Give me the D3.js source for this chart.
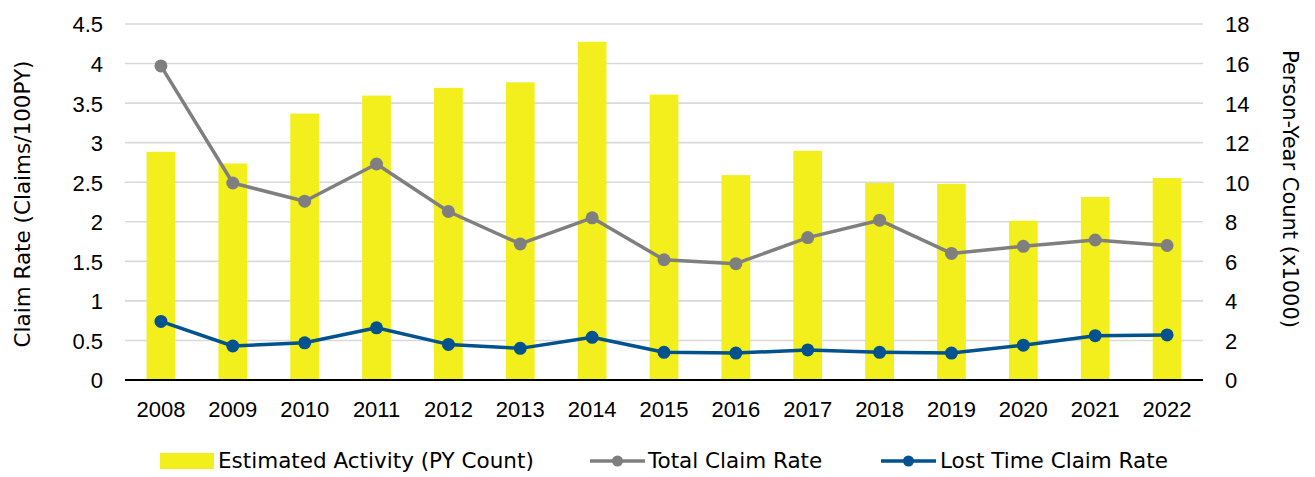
<!DOCTYPE html>
<html>
<head>
<meta charset="utf-8">
<script src="https://cdn.jsdelivr.net/npm/d3@7"></script>
<style>
  html, body { margin: 0; padding: 0; background: #fff; }
  svg { display: block; }
</style>
</head>
<body>
<svg id="chart" width="1315" height="477"></svg>
<script>
const years = ["2008","2009","2010","2011","2012","2013","2014","2015","2016","2017","2018","2019","2020","2021","2022"];
const activity = [11.54, 10.95, 13.47, 14.38, 14.77, 15.05, 17.1, 14.43, 10.36, 11.59, 9.96, 9.92, 8.05, 9.25, 10.21];
const totalRate = [3.97, 2.49, 2.26, 2.73, 2.13, 1.72, 2.05, 1.52, 1.47, 1.80, 2.02, 1.60, 1.69, 1.77, 1.70];
const lostRate = [0.74, 0.43, 0.47, 0.66, 0.45, 0.40, 0.54, 0.35, 0.34, 0.38, 0.35, 0.34, 0.44, 0.56, 0.57];
const leftTicks = [0, 0.5, 1, 1.5, 2, 2.5, 3, 3.5, 4, 4.5];
const rightTicks = [0, 2, 4, 6, 8, 10, 12, 14, 16, 18];
const seriesNames = ["Estimated Activity (PY Count)", "Total Claim Rate", "Lost Time Claim Rate"];
const leftTitle = "Claim Rate (Claims/100PY)";
const rightTitle = "Person-Year Count (x1000)";

const C_BAR = "#F3EF1C", C_GRAY = "#7F7F7F", C_BLUE = "#02528F";
const letterFont = "'DejaVu Sans', sans-serif";
const digitFont = "'Liberation Sans', Arial, sans-serif";

const svg = d3.select("#chart");
const L = 125, R = 1203, T = 24, B = 380;

const x = d3.scaleBand().domain(years).range([L, R]).paddingInner(0.6).paddingOuter(0.3);
const yL = d3.scaleLinear().domain([0, 4.5]).range([B, T]);
const yR = d3.scaleLinear().domain([0, 18]).range([B, T]);
const cx = d => x(d) + x.bandwidth() / 2;

// gridlines
svg.append("g").selectAll("line").data(leftTicks.filter(t => t > 0)).join("line")
  .attr("x1", L).attr("x2", R)
  .attr("y1", d => yL(d)).attr("y2", d => yL(d))
  .attr("stroke", "#D9D9D9").attr("stroke-width", 1.6);

// bars
svg.append("g").selectAll("rect").data(activity).join("rect")
  .attr("x", (d, i) => x(years[i]))
  .attr("width", x.bandwidth())
  .attr("y", d => yR(d))
  .attr("height", d => yR(0) - yR(d))
  .attr("fill", C_BAR);

// baseline
svg.append("line").attr("x1", L).attr("x2", R).attr("y1", B).attr("y2", B)
  .attr("stroke", "#000").attr("stroke-width", 2);

// lines
function drawLine(vals, color) {
  const line = d3.line().x((d, i) => cx(years[i])).y(d => yL(d));
  svg.append("path").datum(vals).attr("d", line)
    .attr("fill", "none").attr("stroke", color).attr("stroke-width", 3.5)
    .attr("stroke-linejoin", "round");
  svg.append("g").selectAll("circle").data(vals).join("circle")
    .attr("cx", (d, i) => cx(years[i])).attr("cy", d => yL(d))
    .attr("r", 6.5).attr("fill", color);
}
drawLine(totalRate, C_GRAY);
drawLine(lostRate, C_BLUE);

// left axis
const axL = d3.axisLeft(yL).tickValues(leftTicks).tickSize(0).tickPadding(0).tickFormat(d3.format("~g"));
const gL = svg.append("g").attr("transform", `translate(103,0)`).call(axL);
gL.select(".domain").remove();
gL.selectAll("text").attr("font-family", digitFont).attr("font-size", 22).attr("fill", "#000").attr("dy", "0.36em").attr("x", 0);

// right axis
const axR = d3.axisRight(yR).tickValues(rightTicks).tickSize(0).tickPadding(0);
const gR = svg.append("g").attr("transform", `translate(1225,0)`).call(axR);
gR.select(".domain").remove();
gR.selectAll("text").attr("font-family", digitFont).attr("font-size", 22).attr("fill", "#000").attr("dy", "0.36em").attr("x", 0);

// bottom axis
const axB = d3.axisBottom(x).tickSize(0).tickPadding(0);
const gB = svg.append("g").attr("transform", `translate(0,417)`).call(axB);
gB.select(".domain").remove();
gB.selectAll("text").attr("font-family", digitFont).attr("font-size", 22).attr("fill", "#000").attr("dy", 0).attr("y", 0);

// axis titles
svg.append("text").attr("transform", "translate(30,204) rotate(-90)")
  .attr("text-anchor", "middle").attr("font-family", letterFont).attr("font-size", 21.5)
  .attr("fill", "#000").text(leftTitle);
svg.append("text").attr("transform", "translate(1283,189) rotate(90)")
  .attr("text-anchor", "middle").attr("font-family", letterFont).attr("font-size", 21)
  .attr("fill", "#000").text(rightTitle);

// legend
const lg = svg.append("g");
lg.append("rect").attr("x", 160).attr("y", 453).attr("width", 54).attr("height", 16).attr("fill", C_BAR);
lg.append("text").attr("x", 218).attr("y", 468).attr("font-family", letterFont).attr("font-size", 21.5).text(seriesNames[0]);
[[590, C_GRAY, 648, seriesNames[1]], [881, C_BLUE, 940, seriesNames[2]]].forEach(([lx, c, tx, name]) => {
  lg.append("line").attr("x1", lx).attr("x2", lx + 55).attr("y1", 461).attr("y2", 461)
    .attr("stroke", c).attr("stroke-width", 3.5);
  lg.append("circle").attr("cx", lx + 27.5).attr("cy", 461).attr("r", 5.5).attr("fill", c);
  lg.append("text").attr("x", tx).attr("y", 468).attr("font-family", letterFont).attr("font-size", 21.5).text(name);
});
</script>
</body>
</html>
